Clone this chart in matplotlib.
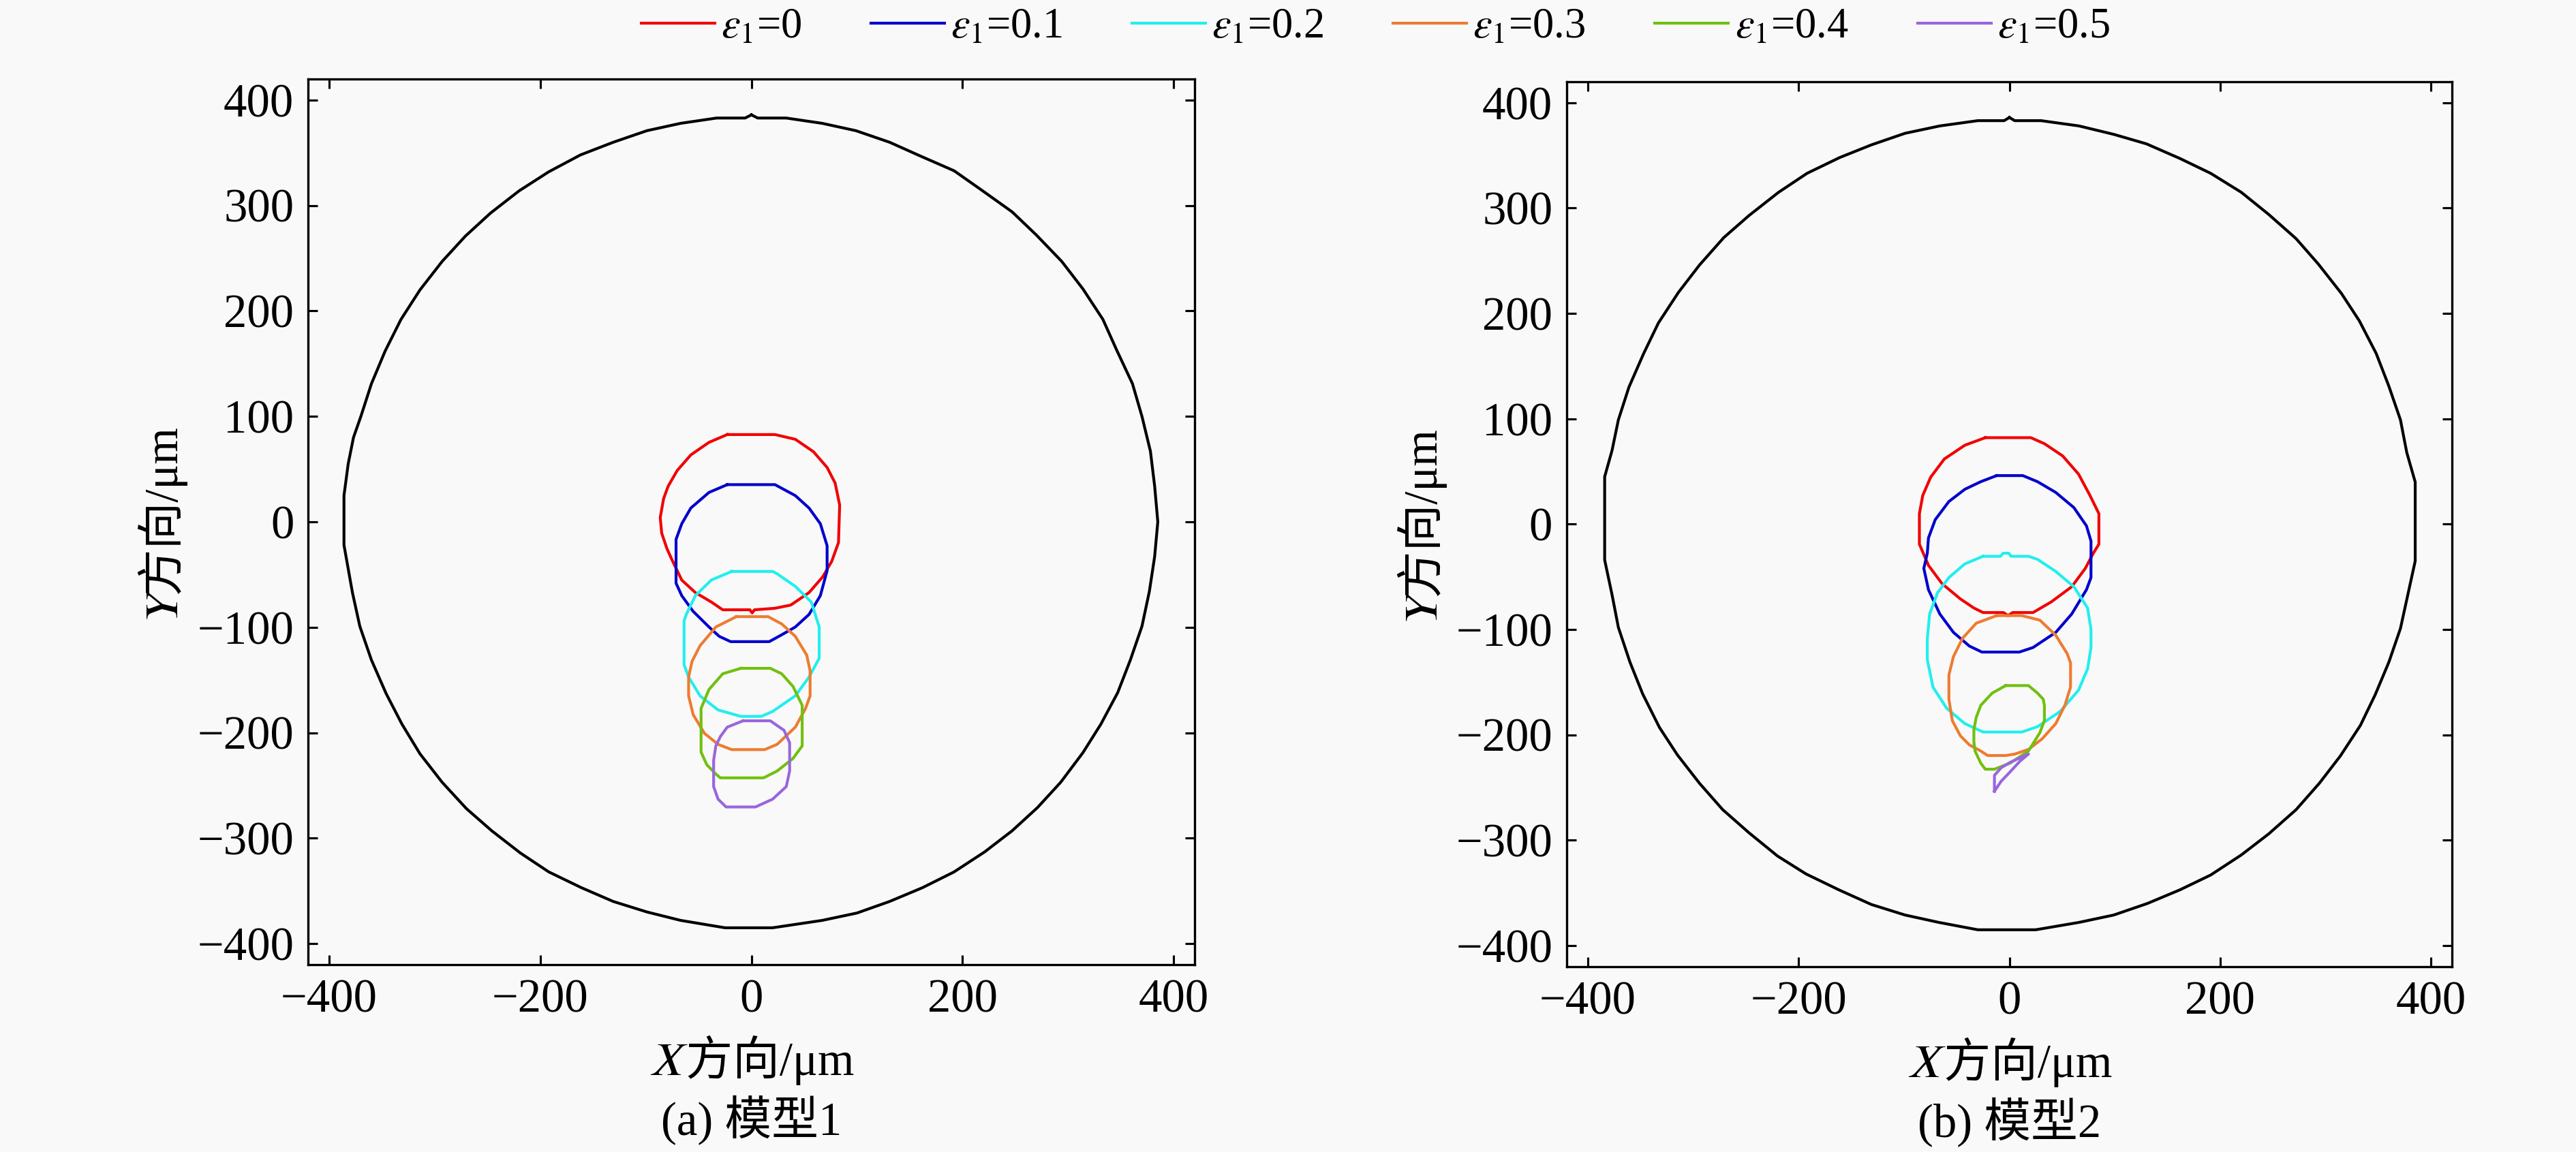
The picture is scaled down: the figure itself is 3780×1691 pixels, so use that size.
import matplotlib
matplotlib.use('Agg')
import matplotlib.pyplot as plt

FAMILY = ['Liberation Serif', 'STIXGeneral', 'Noto Sans CJK SC']
plt.rcParams['font.family'] = FAMILY
plt.rcParams['mathtext.fontset'] = 'stix'
plt.rcParams['axes.unicode_minus'] = True

# ---------------- data (µm) ----------------
labels = [r'$\varepsilon_1$=0', r'$\varepsilon_1$=0.1', r'$\varepsilon_1$=0.2',
          r'$\varepsilon_1$=0.3', r'$\varepsilon_1$=0.4', r'$\varepsilon_1$=0.5']
colors = ['#F00000', '#0000CD', '#22EEEE', '#EE7B30', '#70C010', '#9966DD']
x_ticks = [-400, -200, 0, 200, 400]
y_ticks = [-400, -300, -200, -100, 0, 100, 200, 300, 400]
x_label = '\U0001D44B方向/μm'
y_label = '\U0001D44C方向/μm'
captions = ['(a) 模型1', '(b) 模型2']

# outer boundary, model 1
m1_outer = [(0, 386), (6, 383), (33, 383), (67, 378), (99, 371), (131, 360), (160, 347),
            (192, 333), (219, 314), (247, 294), (270, 272), (294, 247), (314, 221),
            (333, 192), (346, 163), (361, 131), (370, 100), (378, 67), (382, 34),
            (385, 0), (382, -33), (377, -66), (370, -99), (359, -131), (347, -162),
            (331, -192), (314, -219), (293, -247), (271, -271), (247, -293), (221, -313),
            (192, -332), (162, -347), (131, -360), (100, -371), (67, -378), (20, -385),
            (-25, -385), (-67, -378), (-99, -370), (-131, -360), (-161, -347),
            (-192, -332), (-219, -314), (-246, -293), (-270, -272), (-293, -247),
            (-314, -220), (-331, -192), (-346, -163), (-360, -131), (-371, -99),
            (-378, -67), (-386, -22), (-386, 25), (-382, 55), (-377, 80), (-370, 100),
            (-360, 131), (-347, 162), (-332, 192), (-314, 220), (-293, 247),
            (-271, 271), (-247, 293), (-220, 314), (-192, 332), (-162, 348),
            (-131, 360), (-99, 371), (-67, 378), (-33, 383), (-6, 383)]

m1_e0 = [(-22.9, 82.8), (-40.2, 75.4), (-57.4, 63.5), (-70.3, 48.7), (-78.9, 33.8),
         (-83.2, 22.0), (-86.4, 4.1), (-85.0, -10.7), (-80.0, -25.5), (-74.6, -37.4),
         (-66.0, -55.2), (-53.1, -67.1), (-38.0, -76.0), (-27.2, -83.4), (-1.4, -83.4),
         (0.7, -86.4), (2.9, -83.4), (22.0, -82.0), (37.3, -78.9), (54.6, -67.1),
         (67.5, -52.2), (76.1, -37.4), (82.5, -19.6), (83.6, 16.0), (79.3, 36.8),
         (71.7, 51.6), (58.8, 66.5), (41.6, 78.3), (22.3, 82.8)]
m1_e1 = [(-22.9, 35.3), (-40.2, 27.9), (-57.4, 13.1), (-66.0, -1.8), (-71.4, -16.6),
         (-71.4, -58.2), (-66.0, -70.0), (-55.2, -84.9), (-40.2, -99.7), (-30.5, -108.6),
         (-19.7, -113.6), (16.9, -113.6), (28.7, -107.1), (41.6, -99.7), (54.6, -87.8),
         (65.3, -70.0), (71.7, -46.3), (71.7, -22.6), (65.3, -1.8), (54.6, 13.1),
         (41.6, 24.9), (22.3, 35.3)]
m1_e2 = [(-18.7, -47.0), (-38.0, -55.2), (-53.1, -70.0), (-61.7, -87.8), (-63.8, -93.8),
         (-63.8, -135.4), (-59.5, -147.2), (-48.7, -165.0), (-31.6, -178.4),
         (-10.0, -184.5), (9.4, -184.5), (20.1, -179.8), (41.6, -165.0), (54.6, -147.2),
         (64.2, -129.4), (64.2, -99.7), (56.7, -76.0), (41.6, -61.2), (24.4, -49.3),
         (20.1, -47.0)]
m1_e3 = [(-14.3, -89.9), (-33.7, -99.7), (-48.7, -117.5), (-56.3, -132.4), (-59.5, -147.2),
         (-59.5, -165.0), (-55.2, -182.8), (-44.5, -200.6), (-31.6, -211.0),
         (-18.7, -216.0), (12.6, -216.0), (24.4, -211.0), (41.6, -194.7), (51.3, -176.9),
         (55.6, -165.0), (55.6, -141.3), (52.4, -126.4), (41.6, -108.6), (28.7, -96.8),
         (15.8, -89.9)]
m1_e4 = [(-10.0, -138.9), (-27.2, -144.1), (-40.2, -159.0), (-47.7, -176.9), (-47.7, -218.4),
         (-42.3, -230.3), (-33.7, -239.2), (-29.4, -242.8), (11.5, -242.8), (24.4, -236.3),
         (39.4, -224.4), (48.1, -212.5), (48.1, -174.0), (39.4, -156.1), (28.7, -144.1),
         (17.9, -138.9)]
m1_e5 = [(-7.9, -188.7), (-22.9, -194.7), (-29.4, -203.6), (-33.7, -212.5), (-35.8, -226.0),
         (-35.8, -251.1), (-31.6, -263.0), (-24.0, -270.4), (3.9, -270.4), (20.1, -263.0),
         (33.0, -251.1), (36.2, -236.3), (36.2, -209.5), (30.9, -197.7), (17.9, -188.7)]

# outer boundary, model 2
m2_outer = [(0, 386), (5, 383), (30, 383), (66, 378), (99, 370), (130, 361), (162, 347),
            (191, 333), (220, 315), (246, 294), (272, 271), (293, 247), (315, 219),
            (332, 193), (348, 162), (360, 131), (371, 99), (377, 68), (385, 40),
            (385, -35), (378, -67), (371, -99), (360, -131), (347, -162), (333, -191),
            (314, -220), (294, -246), (272, -271), (246, -294), (220, -314), (191, -333),
            (162, -347), (131, -360), (99, -371), (66, -378), (25, -385), (-30, -385),
            (-67, -378), (-99, -371), (-131, -361), (-162, -347), (-193, -332),
            (-220, -315), (-247, -293), (-272, -271), (-294, -246), (-315, -219),
            (-332, -193), (-348, -161), (-360, -131), (-371, -98), (-377, -67),
            (-384, -34), (-384, 45), (-377, 70), (-371, 99), (-361, 130), (-347, 162),
            (-333, 191), (-314, 220), (-294, 246), (-271, 272), (-247, 293),
            (-219, 315), (-192, 333), (-161, 348), (-131, 360), (-99, 371), (-66, 378),
            (-30, 383), (-5, 383)]

m2_e0 = [(-22.9, 82.1), (-42.3, 74.9), (-61.7, 61.9), (-74.7, 44.6), (-82.2, 27.3),
         (-85.4, 10.0), (-85.4, -19.0), (-76.8, -39.1), (-63.9, -56.5), (-46.6, -70.9),
         (-33.7, -79.6), (-25.0, -83.9), (-5.6, -83.9), (-1.3, -86.8), (3.0, -83.9),
         (22.4, -83.9), (39.7, -73.8), (59.1, -59.4), (72.0, -42.0), (79.6, -27.6),
         (84.9, -19.0), (84.9, 10.0), (76.4, 27.3), (65.6, 47.5), (50.5, 64.8),
         (33.2, 76.4), (20.3, 82.1)]
m2_e1 = [(-12.1, 46.1), (-27.2, 40.3), (-42.3, 33.1), (-57.4, 21.5), (-70.4, 4.2),
         (-76.8, -13.1), (-77.9, -27.6), (-81.2, -42.0), (-76.8, -62.2), (-66.0, -85.3),
         (-53.1, -102.7), (-38.0, -115.7), (-26.1, -121.4), (9.4, -121.4), (22.4, -117.1),
         (44.0, -102.7), (59.1, -85.3), (73.1, -62.2), (77.4, -50.7), (77.4, -16.0),
         (73.1, -1.6), (61.2, 15.7), (44.0, 30.1), (26.7, 40.3), (12.7, 46.1)]
m2_e2 = [(-25.0, -30.5), (-42.3, -37.7), (-57.4, -50.7), (-68.2, -65.1), (-75.7, -85.3),
         (-77.9, -108.4), (-77.9, -128.7), (-72.5, -154.7), (-59.5, -174.8),
         (-42.3, -189.3), (-25.0, -197.3), (11.7, -197.3), (26.7, -192.2), (48.3, -177.7),
         (65.6, -157.5), (74.2, -137.3), (77.4, -117.1), (77.4, -99.8), (74.2, -79.6),
         (61.2, -59.4), (44.0, -44.9), (26.7, -33.4), (18.1, -30.5), (1.5, -30.5),
         (-0.5, -27.6), (-6.0, -27.6), (-8.5, -30.5)]
m2_e3 = [(-12.1, -86.8), (-31.5, -94.0), (-44.5, -108.4), (-53.1, -125.7), (-57.4, -143.1),
         (-57.4, -166.2), (-54.2, -186.4), (-46.6, -200.8), (-38.0, -209.5),
         (-27.2, -215.3), (-20.7, -219.6), (-3.5, -219.6), (5.2, -218.2), (18.1, -213.8),
         (31.1, -203.7), (44.0, -189.3), (52.6, -172.0), (58.0, -154.7), (58.0, -131.6),
         (54.8, -122.9), (44.0, -105.5), (28.9, -91.1), (11.7, -86.8)]
m2_e4 = [(-3.5, -153.2), (-16.4, -160.4), (-27.2, -172.0), (-31.5, -183.5), (-33.7, -195.1),
         (-33.7, -206.6), (-32.6, -215.3), (-27.2, -226.8), (-22.9, -232.6),
         (-14.2, -232.6), (0.8, -226.8), (18.1, -215.3), (28.9, -197.9), (33.2, -186.4),
         (33.2, -172.0), (32.1, -166.2), (26.7, -160.4), (18.1, -153.2)]
m2_e5 = [(-14.2, -253.5), (-14.2, -238.4), (-7.8, -231.2), (0.8, -226.0), (18.1, -218.2),
         (10.0, -225.0), (0.8, -235.0), (-7.8, -244.0)]

panels = [(m1_outer, [m1_e0, m1_e1, m1_e2, m1_e3, m1_e4, m1_e5]),
          (m2_outer, [m2_e0, m2_e1, m2_e2, m2_e3, m2_e4, m2_e5])]

# ---------------- figure ----------------
BG = '#F9F9F9'
fig = plt.figure(figsize=(12.6, 1691 / 300), dpi=300)
fig.patch.set_facecolor(BG)
positions = [[0.1196, 0.1626, 0.3442, 0.7688], [0.6082, 0.1609, 0.3437, 0.7682]]
FS = 16.5
LW = 1.0
handles = None

for (outer, curves), pos, cap in zip(panels, positions, captions):
    ax = fig.add_axes(pos)
    ax.set_facecolor(BG)
    ox, oy = zip(*outer)
    ax.plot(list(ox) + [ox[0]], list(oy) + [oy[0]], color='black', lw=LW)
    hs = []
    for pts, c, lab in zip(curves, colors, labels):
        xs, ys = zip(*pts)
        h, = ax.plot(list(xs) + [xs[0]], list(ys) + [ys[0]], color=c, lw=LW, label=lab)
        hs.append(h)
    if handles is None:
        handles = hs
    ax.set_xlim(-420, 420)
    ax.set_ylim(-420, 420)
    ax.set_xticks(x_ticks)
    ax.set_yticks(y_ticks)
    ax.tick_params(direction='in', top=True, right=True, length=3.4, width=0.75,
                   labelsize=FS, pad=5)
    for sp in ax.spines.values():
        sp.set_linewidth(0.8)
    ax.set_xlabel(x_label, fontsize=FS, family=FAMILY)
    ax.xaxis.set_label_coords(0.5, -0.080)
    ax.xaxis.label.set_va('top')
    ax.set_ylabel(y_label, fontsize=FS, family=FAMILY)
    ax.yaxis.set_label_coords(-0.165, 0.5)
    ax.yaxis.label.set_va('center')
    ax.text(0.5, -0.176, cap, transform=ax.transAxes, ha='center', va='center',
            fontsize=FS, family=FAMILY)

fig.legend(handles=handles, labels=labels, loc='center', bbox_to_anchor=(0.534, 0.976),
           ncol=6, frameon=False, fontsize=15, handlelength=1.73, handletextpad=0.15,
           columnspacing=1.62)

fig.savefig('out.png', dpi=300, facecolor=BG)
